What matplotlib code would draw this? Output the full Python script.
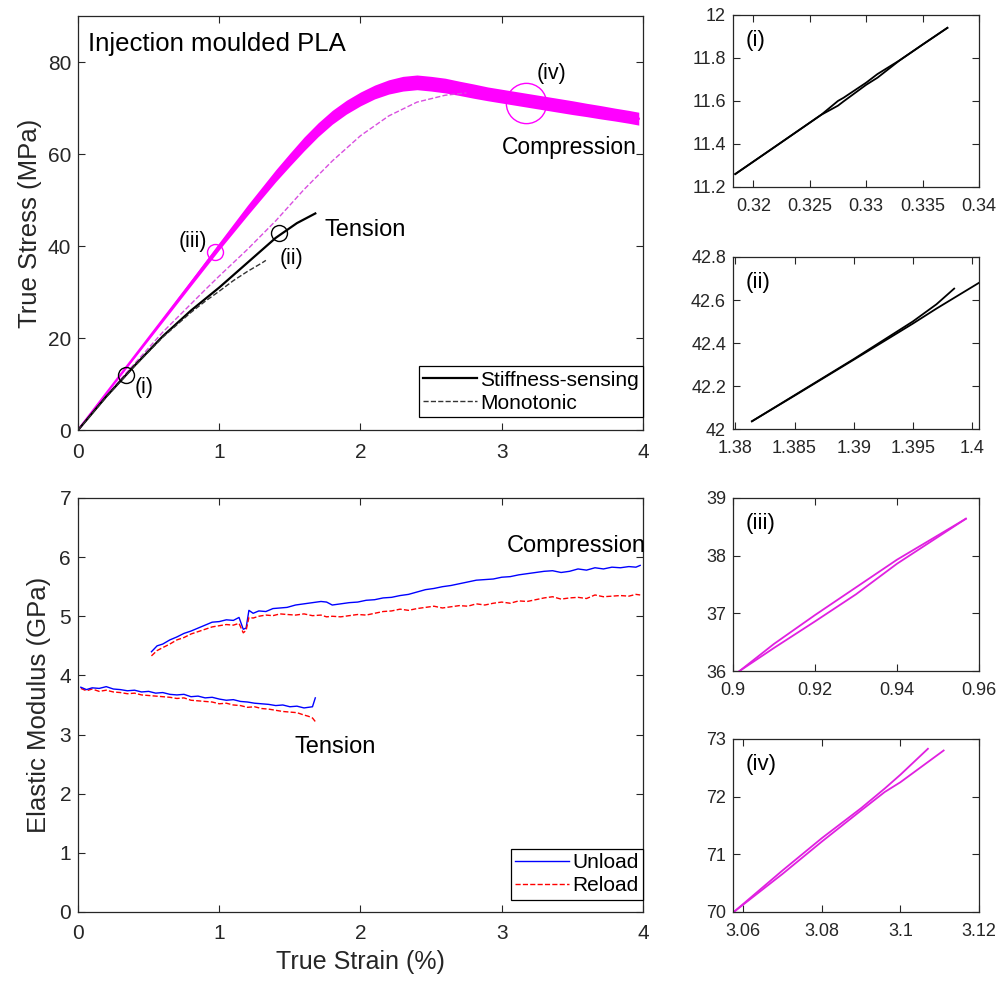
import matplotlib
matplotlib.use("Agg")
import matplotlib.pyplot as plt

plt.rcParams["font.family"] = ["Liberation Sans", "DejaVu Sans"]

# ── stress-strain (top) ─────────────────────────────────────────────
# compression, stiffness-sensing: centre line and half width of the loop band
comp_x = [0, 0.2, 0.4, 0.6, 0.8, 1.0, 1.2, 1.4, 1.5, 1.6, 1.7, 1.8, 1.9, 2.0, 2.1,
          2.2, 2.3, 2.4, 2.5, 2.6, 2.7, 2.8, 2.9, 3.0, 3.1, 3.2, 3.3, 3.4, 3.5,
          3.6, 3.7, 3.8, 3.9, 3.97]
comp_y = [0, 8.0, 16.0, 24.0, 32.0, 40.0, 47.8, 55.3, 58.8, 62.2, 65.3, 68.0, 70.2,
          72.0, 73.5, 74.6, 75.3, 75.6, 75.3, 74.9, 74.3, 73.7, 73.1, 72.6, 72.1,
          71.6, 71.1, 70.6, 70.1, 69.6, 69.1, 68.6, 68.1, 67.7]
comp_hw = [0, 0.1, 0.3, 0.45, 0.6, 0.8, 1.1, 1.3, 1.4, 1.5, 1.5, 1.5, 1.5, 1.5, 1.5,
           1.55, 1.6, 1.6, 1.6, 1.6, 1.55, 1.55, 1.5, 1.5, 1.5, 1.5, 1.5, 1.5, 1.5,
           1.45, 1.45, 1.4, 1.4, 1.4]

# compression, monotonic
comp_mono_x = [0, 0.3, 0.6, 0.9, 1.0, 1.2, 1.4, 1.6, 1.8, 2.0, 2.2, 2.4, 2.6, 2.75]
comp_mono_y = [0, 11.0, 21.3, 30.5, 33.5, 39.3, 45.5, 52.3, 58.5, 64.0, 68.3, 71.3,
               72.8, 73.3]

# tension, stiffness-sensing
ten_x = [0, 0.2, 0.4, 0.6, 0.8, 1.0, 1.2, 1.4, 1.55, 1.68]
ten_y = [0, 7.3, 14.0, 20.4, 26.0, 31.0, 36.4, 41.8, 45.0, 47.1]

# tension, monotonic
ten_mono_x = [0, 0.2, 0.4, 0.6, 0.8, 0.9, 1.0, 1.1, 1.2, 1.3, 1.33]
ten_mono_y = [0, 7.2, 13.9, 20.2, 25.6, 28.0, 30.2, 32.5, 34.5, 36.3, 36.9]

# zoom markers (i)-(iv)
mark_x = [0.34, 1.42, 0.97, 3.17]
mark_y = [12.0, 42.8, 38.8, 71.2]

# ── elastic modulus (bottom) ────────────────────────────────────────
ec_x = [0.52, 0.56, 0.60, 0.65, 0.70, 0.75, 0.80, 0.85, 0.90, 0.95, 1.00, 1.05,
        1.10, 1.14, 1.17, 1.19, 1.21, 1.24, 1.28, 1.33, 1.38, 1.43, 1.48, 1.54,
        1.60, 1.66, 1.72, 1.76, 1.80, 1.86, 1.92, 1.98, 2.04, 2.10, 2.16, 2.22,
        2.28, 2.34, 2.40, 2.46, 2.52, 2.58, 2.64, 2.70, 2.76, 2.82, 2.88, 2.94,
        3.00, 3.06, 3.12, 3.18, 3.24, 3.30, 3.36, 3.42, 3.48, 3.54, 3.60, 3.66,
        3.72, 3.78, 3.84, 3.90, 3.95, 3.98]
ec_unload = [4.40, 4.50, 4.53, 4.60, 4.65, 4.71, 4.75, 4.80, 4.85, 4.90, 4.91, 4.94,
             4.93, 4.98, 4.78, 4.80, 5.10, 5.05, 5.09, 5.08, 5.13, 5.14, 5.15, 5.19,
             5.21, 5.23, 5.25, 5.24, 5.19, 5.21, 5.23, 5.24, 5.27, 5.28, 5.31, 5.32,
             5.35, 5.37, 5.41, 5.45, 5.47, 5.50, 5.52, 5.55, 5.58, 5.61, 5.62, 5.63,
             5.66, 5.67, 5.70, 5.72, 5.74, 5.76, 5.77, 5.74, 5.76, 5.80, 5.78, 5.82,
             5.80, 5.83, 5.82, 5.84, 5.83, 5.86]
ec_reload = [4.33, 4.42, 4.47, 4.53, 4.60, 4.64, 4.70, 4.74, 4.78, 4.82, 4.84, 4.86,
             4.85, 4.88, 4.72, 4.76, 4.98, 4.97, 5.00, 5.02, 5.01, 5.04, 5.03, 5.02,
             5.04, 5.01, 5.02, 4.99, 5.00, 4.99, 5.01, 5.03, 5.02, 5.05, 5.08, 5.09,
             5.12, 5.10, 5.13, 5.15, 5.17, 5.14, 5.16, 5.18, 5.17, 5.21, 5.19, 5.22,
             5.24, 5.22, 5.26, 5.25, 5.28, 5.31, 5.33, 5.29, 5.31, 5.32, 5.30, 5.36,
             5.33, 5.34, 5.35, 5.34, 5.37, 5.36]

et_x = [0.02, 0.06, 0.10, 0.15, 0.20, 0.25, 0.30, 0.35, 0.40, 0.45, 0.50, 0.55,
        0.60, 0.65, 0.70, 0.75, 0.80, 0.85, 0.90, 0.95, 1.00, 1.05, 1.10, 1.15,
        1.20, 1.25, 1.30, 1.35, 1.40, 1.45, 1.50, 1.55, 1.60, 1.63, 1.66, 1.68]
et_unload = [3.80, 3.76, 3.79, 3.78, 3.81, 3.77, 3.76, 3.74, 3.75, 3.72, 3.73, 3.70,
             3.71, 3.68, 3.67, 3.68, 3.64, 3.65, 3.62, 3.63, 3.60, 3.58, 3.59, 3.56,
             3.55, 3.53, 3.52, 3.51, 3.49, 3.50, 3.47, 3.48, 3.45, 3.46, 3.47, 3.62]
et_reload = [3.78, 3.74, 3.77, 3.73, 3.75, 3.72, 3.71, 3.69, 3.70, 3.67, 3.66, 3.65,
             3.64, 3.63, 3.61, 3.62, 3.58, 3.57, 3.56, 3.55, 3.52, 3.53, 3.50, 3.49,
             3.46, 3.47, 3.44, 3.43, 3.41, 3.39, 3.38, 3.37, 3.33, 3.31, 3.28, 3.22]

# ── zoomed unload/reload loops ──────────────────────────────────────
z1_x = [0.3184, 0.322, 0.326, 0.3275, 0.328, 0.330, 0.331, 0.333, 0.335, 0.3372]
z1_a = [11.26, 11.39, 11.535, 11.600, 11.615, 11.685, 11.725, 11.79, 11.862, 11.94]
z1_b = [11.26, 11.39, 11.535, 11.578, 11.598, 11.675, 11.708, 11.79, 11.862, 11.94]

z2_xa = [1.3814, 1.385, 1.39, 1.395, 1.397, 1.3985]
z2_ya = [42.036, 42.157, 42.325, 42.50, 42.58, 42.653]
z2_xb = [1.3814, 1.385, 1.39, 1.395, 1.397, 1.4009]
z2_yb = [42.036, 42.155, 42.322, 42.49, 42.56, 42.69]

z3_x = [0.9016, 0.91, 0.92, 0.93, 0.94, 0.9568]
z3_a = [36.0, 36.47, 36.97, 37.45, 37.93, 38.64]
z3_b = [36.0, 36.40, 36.86, 37.33, 37.86, 38.64]

z4_xa = [3.0576, 3.07, 3.08, 3.09, 3.096, 3.10, 3.107]
z4_ya = [70.0, 70.72, 71.28, 71.80, 72.14, 72.38, 72.83]
z4_xb = [3.0576, 3.07, 3.08, 3.09, 3.096, 3.10, 3.111]
z4_yb = [70.0, 70.66, 71.22, 71.76, 72.08, 72.25, 72.80]

AX_COL = "#262626"
MAG = "#ff00ff"


def style(ax, fs, xpad):
    ax.tick_params(direction="in", top=True, right=True, length=5, width=0.8,
                   labelsize=fs, colors=AX_COL)
    ax.tick_params(axis="x", pad=xpad)
    ax.tick_params(axis="y", pad=5)
    for s in ax.spines.values():
        s.set_color(AX_COL)
        s.set_linewidth(0.9)


fig = plt.figure(figsize=(10, 9.82), dpi=100)

# ── top: stress-strain ──
ax1 = fig.add_axes([0.078, 0.562, 0.565, 0.4216])
lo = [c - h for c, h in zip(comp_y, comp_hw)]
hi = [c + h for c, h in zip(comp_y, comp_hw)]
ax1.fill_between(comp_x, lo, hi, color=MAG, lw=0)
ax1.plot(comp_x, comp_y, color=MAG, lw=1.6)
ax1.plot(comp_mono_x, comp_mono_y, "--", color="#d94fe0", lw=1.0)
ax1.plot(ten_x, ten_y, color="black", lw=1.6, label="Stiffness-sensing")
ax1.plot(ten_mono_x, ten_mono_y, "--", color="#333333", lw=1.0, label="Monotonic")
mcols = ["black", "black", MAG, MAG]
msizes = [11.5, 11.5, 11.5, 29]
for x, y, c, s in zip(mark_x, mark_y, mcols, msizes):
    ax1.plot(x, y, "o", ms=s, mfc="none", mec=c, mew=1.0)

ax1.set_xlim(0, 4)
ax1.set_ylim(0, 90)
ax1.set_xticks([0, 1, 2, 3, 4])
ax1.set_yticks([0, 20, 40, 60, 80])
ax1.set_ylabel("True Stress (MPa)", fontsize=18.5, color=AX_COL, labelpad=4)
style(ax1, 15, 9)
ax1.text(0.018, 0.932, "Injection moulded PLA", transform=ax1.transAxes,
         fontsize=18.5, va="center", ha="left")
ax1.text(3.35, 77.6, "(iv)", fontsize=15.5, ha="center", va="center")
ax1.text(3.48, 61.4, "Compression", fontsize=16.5, ha="center", va="center")
ax1.text(2.03, 43.5, "Tension", fontsize=17, ha="center", va="center")
ax1.text(0.81, 40.9, "(iii)", fontsize=15.5, ha="center", va="center")
ax1.text(1.51, 37.2, "(ii)", fontsize=15.5, ha="center", va="center")
ax1.text(0.47, 9.3, "(i)", fontsize=15.5, ha="center", va="center")
leg1 = ax1.legend(loc="lower right", bbox_to_anchor=(1.0, 0.032), borderaxespad=0,
                  fontsize=15, fancybox=False, framealpha=1, edgecolor="black",
                  handlelength=2.6, handletextpad=0.15, borderpad=0.2,
                  labelspacing=0.2)
leg1.get_frame().set_linewidth(0.9)

# ── bottom: elastic modulus ──
ax2 = fig.add_axes([0.078, 0.0713, 0.565, 0.4216])
ax2.plot(ec_x, ec_unload, color="#0000ff", lw=1.0, label="Unload")
ax2.plot(ec_x, ec_reload, "--", color="#ff0000", lw=1.0, label="Reload")
ax2.plot(et_x, et_reload, "--", color="#ff0000", lw=1.0)
ax2.plot(et_x, et_unload, color="#0000ff", lw=1.0)
ax2.set_xlim(0, 4)
ax2.set_ylim(0, 7)
ax2.set_xticks([0, 1, 2, 3, 4])
ax2.set_yticks(range(8))
ax2.set_xlabel("True Strain (%)", fontsize=18, color=AX_COL, labelpad=5)
ax2.set_ylabel("Elastic Modulus (GPa)", fontsize=18.5, color=AX_COL, labelpad=6)
style(ax2, 15, 9)
ax2.text(3.53, 6.19, "Compression", fontsize=17, ha="center", va="center")
ax2.text(1.82, 2.79, "Tension", fontsize=17, ha="center", va="center")
leg2 = ax2.legend(loc="lower right", bbox_to_anchor=(1.0, 0.03), borderaxespad=0,
                  fontsize=15, fancybox=False, framealpha=1, edgecolor="black",
                  handlelength=2.6, handletextpad=0.15, borderpad=0.2,
                  labelspacing=0.2)
leg2.get_frame().set_linewidth(0.9)

# ── right: zoomed loops ──
insets = [
    ([0.733, 0.8096, 0.246, 0.1752], (0.3182, 0.34), (11.2, 12),
     [0.32, 0.325, 0.33, 0.335, 0.34], [11.2, 11.4, 11.6, 11.8, 12], "(i)"),
    ([0.733, 0.5631, 0.246, 0.1752], (1.3798, 1.4006), (42, 42.8),
     [1.38, 1.385, 1.39, 1.395, 1.4], [42, 42.2, 42.4, 42.6, 42.8], "(ii)"),
    ([0.733, 0.3167, 0.246, 0.1762], (0.9, 0.96), (36, 39),
     [0.9, 0.92, 0.94, 0.96], [36, 37, 38, 39], "(iii)"),
    ([0.733, 0.0713, 0.246, 0.1762], (3.0574, 3.12), (70, 73),
     [3.06, 3.08, 3.1, 3.12], [70, 71, 72, 73], "(iv)"),
]
series = [
    [(z1_x, z1_a), (z1_x, z1_b)],
    [(z2_xa, z2_ya), (z2_xb, z2_yb)],
    [(z3_x, z3_a), (z3_x, z3_b)],
    [(z4_xa, z4_ya), (z4_xb, z4_yb)],
]
cols = ["black", "black", "#e020e0", "#e020e0"]
for (rect, xl, yl, xt, yt, lab), ser, c in zip(insets, series, cols):
    ax = fig.add_axes(rect)
    for xs, ys in ser:
        ax.plot(xs, ys, color=c, lw=1.3)
    ax.set_xlim(*xl)
    ax.set_ylim(*yl)
    ax.set_xticks(xt)
    ax.set_yticks(yt)
    ax.set_xticklabels([f"{v:g}" for v in xt])
    ax.set_yticklabels([f"{v:g}" for v in yt])
    style(ax, 13, 8)
    ax.text(0.05, 0.85, lab, transform=ax.transAxes, fontsize=16,
            ha="left", va="center")

fig.savefig("out.png", dpi=100)
